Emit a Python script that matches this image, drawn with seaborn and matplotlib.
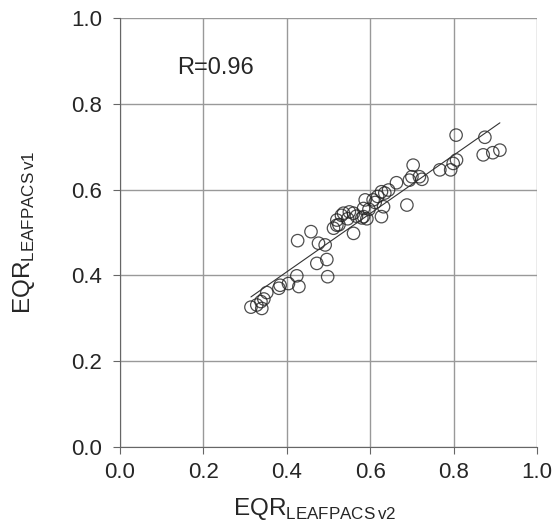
import seaborn as sns
import matplotlib.pyplot as plt
import pandas as pd

# EQR values
eqr_v2 = [0.314, 0.328, 0.338, 0.340, 0.345, 0.352, 0.381, 0.384, 0.404, 0.424,
          0.429, 0.426, 0.458, 0.472, 0.476, 0.492, 0.496, 0.498, 0.512, 0.520,
          0.525, 0.520, 0.531, 0.536, 0.546, 0.550, 0.560, 0.560, 0.567, 0.580,
          0.584, 0.584, 0.588, 0.592, 0.597, 0.607, 0.612, 0.618, 0.627, 0.632,
          0.627, 0.635, 0.644, 0.663, 0.688, 0.694, 0.700, 0.703, 0.718, 0.724,
          0.767, 0.793, 0.799, 0.807, 0.806, 0.871, 0.875, 0.894, 0.911]
eqr_v1 = [0.326, 0.331, 0.339, 0.323, 0.345, 0.360, 0.370, 0.377, 0.381, 0.399,
          0.374, 0.481, 0.502, 0.428, 0.475, 0.471, 0.437, 0.397, 0.510, 0.517,
          0.518, 0.529, 0.540, 0.545, 0.532, 0.548, 0.498, 0.545, 0.538, 0.534,
          0.556, 0.537, 0.576, 0.532, 0.554, 0.576, 0.570, 0.584, 0.595, 0.560,
          0.537, 0.592, 0.599, 0.616, 0.564, 0.622, 0.630, 0.657, 0.630, 0.624,
          0.646, 0.646, 0.661, 0.669, 0.727, 0.681, 0.722, 0.686, 0.692]
ticks = [0.0, 0.2, 0.4, 0.6, 0.8, 1.0]

df = pd.DataFrame({"v2": eqr_v2, "v1": eqr_v1})

sns.set_style("white")
plt.rcParams["font.family"] = ["Liberation Sans", "DejaVu Sans"]
plt.rcParams["mathtext.fontset"] = "custom"
plt.rcParams["mathtext.rm"] = "Liberation Sans"

fig = plt.figure(figsize=(5.53, 5.29), dpi=100)
ax = fig.add_axes([120 / 553, 82 / 529, 417 / 553, 429 / 529])

sns.regplot(data=df, x="v2", y="v1", ci=None, ax=ax,
            scatter_kws=dict(s=80, facecolors="none", edgecolors="#222222", linewidths=0.9),
            line_kws=dict(color="#333333", linewidth=0.8))

ax.set_xlim(0, 1)
ax.set_ylim(0, 1)
ax.set_xticks(ticks)
ax.set_yticks(ticks)
ax.set_xticklabels([f"{t:.1f}" for t in ticks])
ax.set_yticklabels([f"{t:.1f}" for t in ticks])
ax.grid(True, color="#999999", linewidth=1)
ax.set_axisbelow(True)
for side in ["top", "right"]:
    ax.spines[side].set_visible(False)
for side in ["left", "bottom"]:
    ax.spines[side].set_color("#666666")
ax.tick_params(labelsize=16, length=5, color="#666666", direction="out",
               left=True, bottom=True)
ax.tick_params(axis="y", pad=8)
ax.tick_params(axis="x", pad=6)

ax.set_xlabel(r"$\mathrm{EQR}_{\mathrm{LEAFPACS\,v2}}$", fontsize=17.5)
ax.set_ylabel(r"$\mathrm{EQR}_{\mathrm{LEAFPACS\,v1}}$", fontsize=17.5)
ax.xaxis.set_label_coords(0.466, -0.115)
ax.yaxis.set_label_coords(-0.20, 0.5)
ax.text(0.137, 0.883, "R=0.96", fontsize=17, va="center")

fig.savefig("out.png", dpi=100)
